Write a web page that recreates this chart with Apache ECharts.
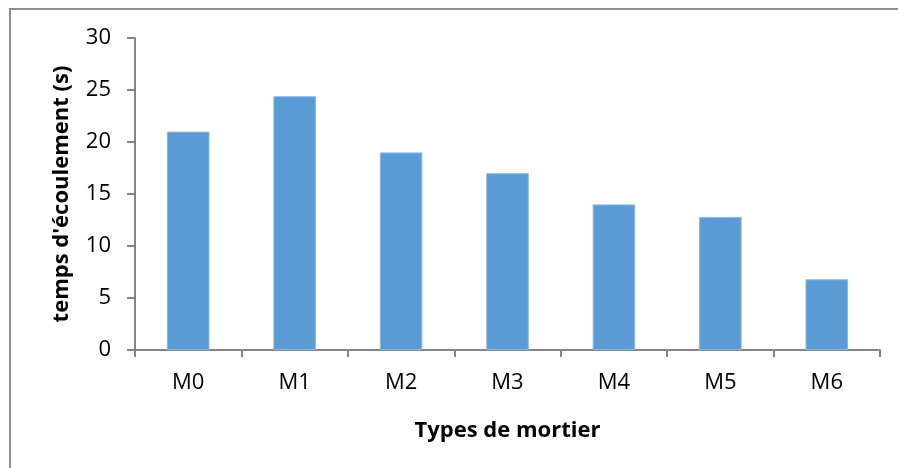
<!DOCTYPE html>
<html>
<head>
<meta charset="utf-8">
<script src="https://cdn.jsdelivr.net/npm/echarts@6/dist/echarts.min.js"></script>
<style>
  html, body { margin: 0; padding: 0; overflow: hidden; background: #fff; }
  #chart { position: absolute; left: 0; top: 0; width: 898px; height: 468px; }
  /* cadre du graphique (coupé à droite et en bas) */
  #frame {
    position: absolute; left: 9px; top: 8px; width: 1000px; height: 1000px;
    border-left: 2px solid #8f8f8f; border-top: 2px solid #8f8f8f;
    pointer-events: none;
  }
</style>
</head>
<body>
<div id="chart"></div>
<div id="frame"></div>
<script>
// types de mortier
var categories = ['M0', 'M1', 'M2', 'M3', 'M4', 'M5', 'M6'];
// temps d'écoulement (s)
var flowTimes = [21.0, 24.4, 19.0, 17.0, 14.0, 12.8, 6.8];

var chart = echarts.init(document.getElementById('chart'));
var font = '"Open Sans", "DejaVu Sans", sans-serif';

var option = {
  animation: false,
  grid: {
    left: 135,
    right: 18,
    top: 38,
    bottom: 118
  },
  xAxis: {
    type: 'category',
    data: categories,
    name: 'Types de mortier',
    nameLocation: 'middle',
    nameGap: 70,
    nameTextStyle: { color: '#000', fontFamily: font, fontSize: 22, fontWeight: 'bold' },
    axisLine: { lineStyle: { color: '#868686', width: 2 } },
    axisTick: { show: true, length: 7, lineStyle: { color: '#868686', width: 2 } },
    axisLabel: { color: '#000', fontFamily: font, fontSize: 22, margin: 22 }
  },
  yAxis: {
    type: 'value',
    min: 0,
    max: 30,
    interval: 5,
    name: "temps d'écoulement (s)",
    nameLocation: 'middle',
    nameGap: 62,
    nameTextStyle: { color: '#000', fontFamily: font, fontSize: 22, fontWeight: 'bold' },
    axisLine: { show: true, lineStyle: { color: '#868686', width: 2 } },
    axisTick: { show: true, length: 8, lineStyle: { color: '#868686', width: 2 } },
    axisLabel: { color: '#000', fontFamily: font, fontSize: 22, margin: 24 },
    splitLine: { show: false }
  },
  series: [
    {
      type: 'bar',
      data: flowTimes,
      barWidth: '40%',
      itemStyle: { color: '#5b9bd5', borderColor: '#8ab8e2', borderWidth: 1 }
    }
  ]
};
chart.setOption(option);
</script>
</body>
</html>
